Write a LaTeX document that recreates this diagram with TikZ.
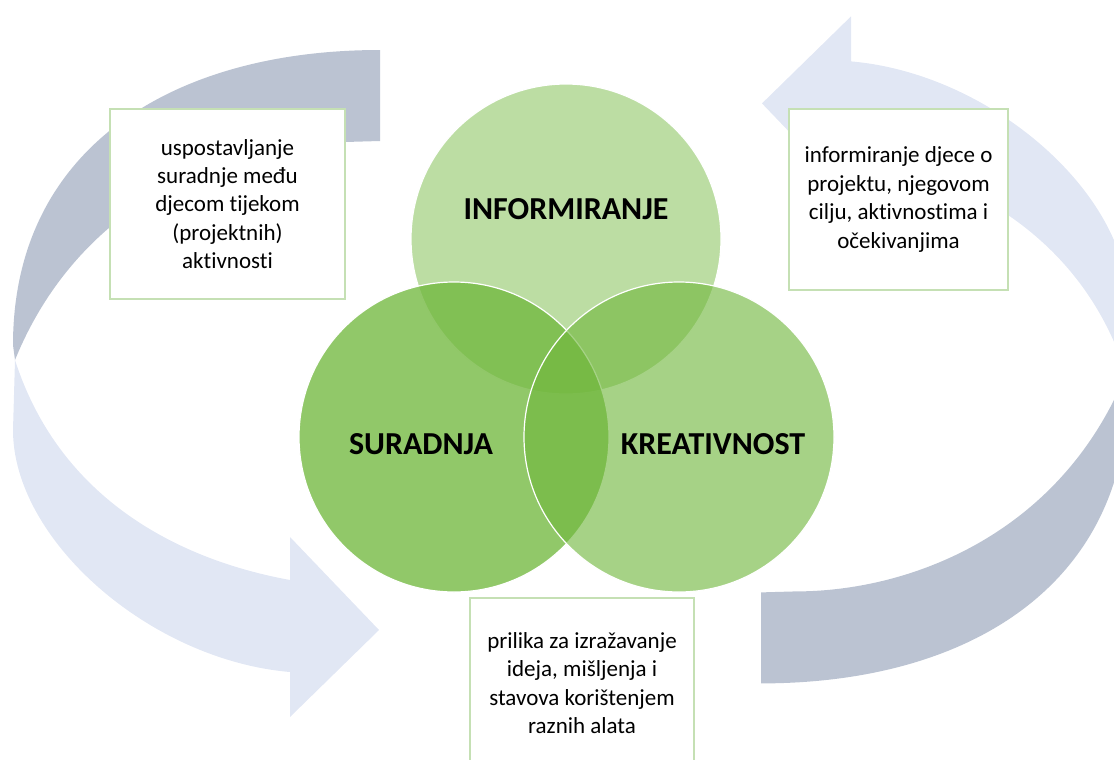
\documentclass[tikz,border=0pt]{standalone}
\usepackage{fontspec}
\setmainfont{Carlito}[Ligatures=NoCommon]
\usepackage{xcolor}
\usepackage{tikz}

\definecolor{ringDark}{RGB}{187,195,210}
\definecolor{ringLight}{RGB}{225,231,244}
\definecolor{vennGreen}{RGB}{112,183,60}
\definecolor{noteLine}{RGB}{197,224,180}

\begin{document}
\begin{tikzpicture}[
  x=0.5pt, y=-0.5pt,
  venn/.style={circle, draw=white, line width=0.6pt, minimum size=155pt, inner sep=0pt, fill=vennGreen},
  note/.style={draw=noteLine, line width=0.9pt, fill=white, align=center, inner sep=0pt, font=\fontsize{11.5}{14.2}\selectfont},
  lbl/.style={font=\fontsize{16}{19}\selectfont\bfseries}
]
\useasboundingbox (0,0) rectangle (1114,760);
\clip (0,0) rectangle (1114,760);

\foreach \turn in {0,180} {
  \begin{scope}[rotate around={\turn:(570.5,366.7)}]
    \fill[ringDark] (380,50) -- (380,141) -- (345,142)
      .. controls (230,142) and (80,200) .. (15,360) -- (13,345)
      .. controls (13,150) and (170,50) .. (380,50) -- cycle;
    \fill[ringLight] (15,360) -- (13,430)
      .. controls (13,540) and (150,660) .. (290,672)
      -- (290,717) -- (379,630) -- (290,537) -- (290,580)
      .. controls (180,560) and (60,500) .. (15,360) -- cycle;
  \end{scope}
}

\node[venn, fill opacity=0.47] (info) at (566,239) {};
\node[venn, fill opacity=0.77] (collab) at (454,437) {};
\node[venn, fill opacity=0.62] (creat) at (679,437) {};

\node[lbl] (infoTxt) at (566,209) {INFORMIRANJE};
\node[lbl] (collabTxt) at (421,444) {SURADNJA};
\node[lbl] (creatTxt) at (713,444) {KREATIVNOST};

\node[note, minimum width=117.5pt, minimum height=95pt] (collabNote) at (227.5,204) {uspostavljanje\\suradnje među\\djecom tijekom\\(projektnih)\\aktivnosti};
\node[note, minimum width=109.5pt, minimum height=90.5pt] (infoNote) at (898.5,199.5) {informiranje djece o\\projektu, njegovom\\cilju, aktivnostima i\\očekivanjima};
\node[note, minimum width=112pt, minimum height=85pt] (creatNote) at (582,683) {prilika za izražavanje\\ideja, mišljenja i\\stavova korištenjem\\raznih alata};
\end{tikzpicture}
\end{document}
